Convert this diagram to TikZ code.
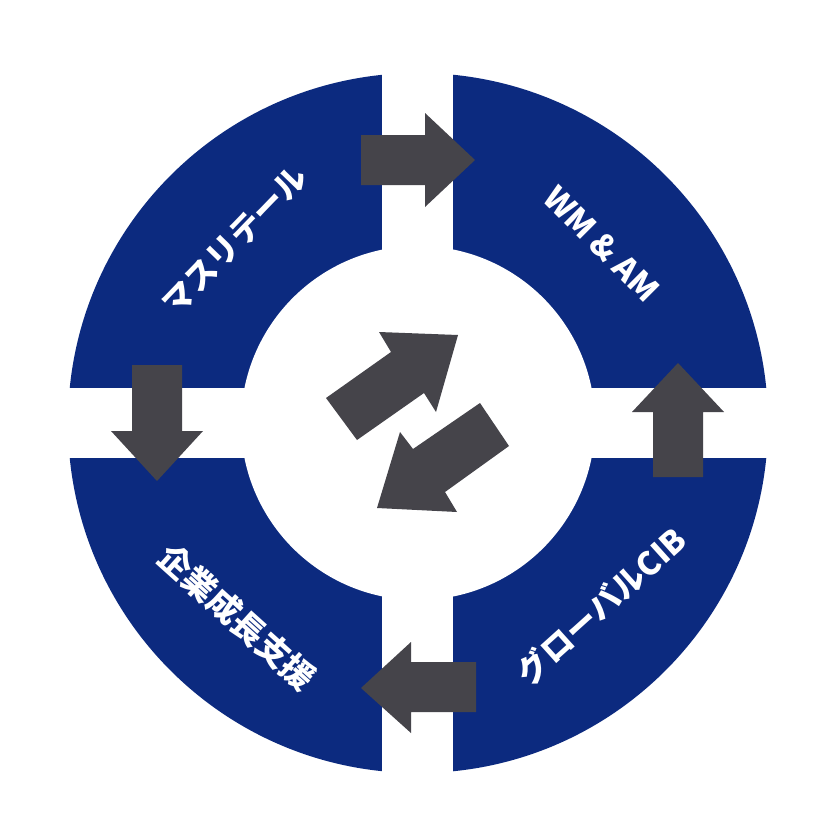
\documentclass[tikz,border=0pt]{standalone}
\usepackage{fontspec}
\newfontfamily\jp{Noto Sans CJK JP}
\definecolor{ringblue}{RGB}{12,42,127}
\definecolor{arrowgray}{RGB}{69,68,74}
\begin{document}
\begin{tikzpicture}[x=1pt,y=-1pt,
  arr/.style={fill=arrowgray},
  lbl/.style={text=white,font=\jp\bfseries\fontsize{32pt}{32pt}\selectfont,inner sep=0pt}]
\useasboundingbox (0,0) rectangle (838,838);
\fill[white] (0,0) rectangle (838,838);
% ring
\fill[ringblue] (418,423) circle[radius=350pt];
\fill[white] (418,423) circle[radius=177pt];
\fill[white] (382,60) rectangle (453,790);
\fill[white] (50,388) rectangle (790,458);
% ring arrows
\fill[arr] (361,135) -- (425,135) -- (425,113) -- (475,160) -- (425,207) -- (425,185) -- (361,185) -- cycle;
\fill[arr] (132,365) -- (182,365) -- (182,431) -- (203,431) -- (157,481) -- (111,431) -- (132,431) -- cycle;
\fill[arr] (653,477) -- (703,477) -- (703,412) -- (724,412) -- (678,363) -- (632,412) -- (653,412) -- cycle;
\fill[arr] (476,662) -- (411,662) -- (411,642) -- (361,688) -- (411,733) -- (411,712) -- (476,712) -- cycle;
% centre arrows
\fill[arr] (326,398) -- (391,352) -- (379,332) -- (458,335) -- (436,412) -- (424,393) -- (357,440) -- cycle;
\fill[arr] (509,446) -- (445,492) -- (457,512) -- (377,508) -- (400,432) -- (413,449) -- (480,403) -- cycle;
% labels
\node[lbl,rotate=46] (retail) at (235,241) {マスリテール};
\node[lbl,rotate=-45] (wmam) at (602,244) {WM \& AM};
\node[lbl,rotate=-42,font=\jp\bfseries\fontsize{33pt}{33pt}\selectfont] (growth) at (237,617) {企業成長支援};
\node[lbl,rotate=42] (cib) at (601,606) {グローバルCIB};
\end{tikzpicture}
\end{document}
